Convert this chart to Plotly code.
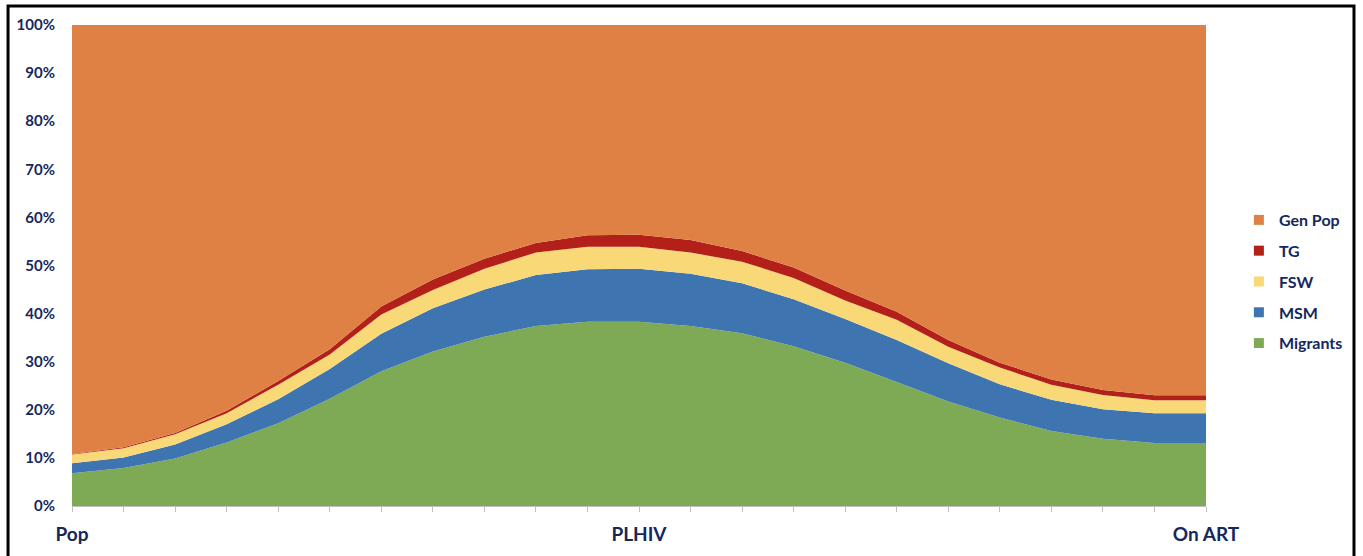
import plotly.graph_objects as go

# Stage positions along the cascade (23 points, three of them labelled)
stage_labels = ["Pop"] + [""] * 10 + ["PLHIV"] + [""] * 10 + ["On ART"]
stage_pos = list(range(len(stage_labels)))

# Share of each group at each stage (%)
migrants = [6.8, 7.9, 9.9, 13.2, 17.2, 22.3, 28.0, 32.1, 35.2, 37.4, 38.3, 38.3,
            37.4, 35.9, 33.2, 29.8, 25.8, 21.7, 18.4, 15.6, 14.0, 13.1, 13.1]
msm = [2.1, 2.2, 2.9, 3.8, 5.0, 6.2, 7.8, 9.0, 9.8, 10.6, 10.9, 11.0,
       10.9, 10.4, 9.8, 9.1, 8.7, 8.0, 6.9, 6.5, 6.1, 6.2, 6.2]
fsw = [1.8, 1.9, 2.1, 2.3, 3.0, 3.0, 4.0, 3.8, 4.3, 4.7, 4.7, 4.6,
       4.4, 4.5, 4.4, 3.8, 4.2, 3.4, 3.5, 3.1, 3.0, 2.7, 2.7]
tg = [0.1, 0.2, 0.3, 0.5, 0.8, 1.1, 1.7, 2.2, 2.1, 2.0, 2.4, 2.5,
      2.6, 2.2, 2.2, 2.1, 1.7, 1.4, 1.0, 1.1, 1.0, 1.0, 1.0]
gen_pop = [round(100 - (a + b + c + d), 1) for a, b, c, d in zip(migrants, msm, fsw, tg)]

series = [
    ("Migrants", migrants, "#7EAA55"),
    ("MSM", msm, "#3E75B0"),
    ("FSW", fsw, "#F8D877"),
    ("TG", tg, "#B22019"),
    ("Gen Pop", gen_pop, "#DF8045"),
]

navy = "#15275B"
font_family = "Lato, 'Open Sans', sans-serif"

fig = go.Figure()

# Stacked areas
for name, vals, color in series:
    fig.add_trace(go.Scatter(
        x=stage_pos, y=vals, name=name, mode="none",
        stackgroup="share", groupnorm="percent",
        fillcolor=color, line=dict(width=0),
        showlegend=False, hoverinfo="skip",
    ))

# Square legend keys, top to bottom: Gen Pop ... Migrants
for name, vals, color in reversed(series):
    fig.add_trace(go.Scatter(
        x=[None], y=[None], mode="markers", name=name, legendgroup=name,
        marker=dict(symbol="square", size=10, color=color),
    ))

fig.update_layout(
    width=1363, height=556,
    margin=dict(l=72, r=157, t=25, b=50),
    paper_bgcolor="white", plot_bgcolor="white",
    font=dict(family=font_family, color=navy),
    showlegend=True,
    legend=dict(
        x=1.029, xanchor="left", y=0.630, yanchor="top",
        traceorder="grouped", tracegroupgap=7,
        font=dict(size=16, color=navy, weight="bold"),
        itemwidth=30, bgcolor="rgba(0,0,0,0)",
    ),
    xaxis=dict(
        range=[0, len(stage_labels) - 1],
        tickmode="array", tickvals=stage_pos, ticktext=stage_labels,
        ticks="outside", ticklen=5, tickcolor="#BFBFBF", tickwidth=1,
        showline=True, linecolor="#BFBFBF", linewidth=1,
        showgrid=False, zeroline=False, automargin=False,
        tickfont=dict(size=19, color=navy, weight="bold"),
        ticklabelstandoff=6,
    ),
    yaxis=dict(
        range=[0, 100],
        tickmode="array", tickvals=list(range(0, 101, 10)),
        ticktext=[f"{v}%" for v in range(0, 101, 10)],
        showgrid=False, zeroline=False, showline=False, ticks="",
        automargin=False,
        tickfont=dict(size=15, color=navy, weight="bold"),
        ticklabelstandoff=16,
    ),
    shapes=[dict(
        type="rect", xref="paper", yref="paper",
        x0=-0.0564, x1=1.1305, y0=-0.25, y1=1.0395,
        line=dict(color="black", width=3), fillcolor="rgba(0,0,0,0)",
        layer="above",
    )],
)

fig.write_html("out.html")
